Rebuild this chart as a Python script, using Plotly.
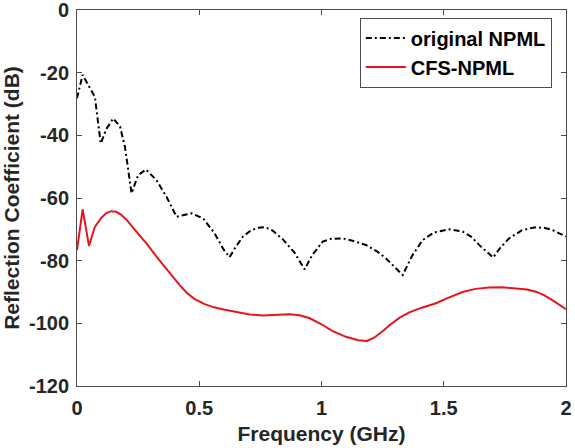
import plotly.graph_objects as go

# original NPML (black dash-dot)
f_orig = [0.0, 0.023, 0.05, 0.073, 0.097, 0.12, 0.148, 0.176, 0.196, 0.223, 0.25, 0.282,
          0.325, 0.366, 0.407, 0.44, 0.468, 0.516, 0.563, 0.6, 0.624, 0.65, 0.679, 0.71, 0.74,
          0.77, 0.8, 0.842, 0.89, 0.931, 0.96, 1.005, 1.04, 1.087, 1.13, 1.182, 1.23, 1.264,
          1.3, 1.332, 1.37, 1.414, 1.46, 1.522, 1.577, 1.615, 1.645, 1.68, 1.702, 1.73, 1.767,
          1.82, 1.869, 1.91, 1.944, 2.0]
r_orig = [-28.2, -20.7, -24.5, -27.7, -42.6, -38.0, -34.6, -37.2, -43.6, -58.5, -52.7, -50.9,
          -54.3, -59.6, -66.0, -65.5, -64.9, -66.5, -71.3, -76.5, -78.9, -75.5, -72.3, -70.4, -69.5,
          -69.3, -70.4, -73.2, -77.5, -82.8, -78.5, -73.9, -73.0, -72.9, -73.7, -75.0, -77.2, -79.3,
          -82.0, -84.6, -78.5, -73.4, -71.0, -70.0, -70.7, -72.5, -75.0, -77.5, -79.0, -76.0, -72.9,
          -70.3, -69.4, -69.5, -70.2, -72.3]

# CFS-NPML (red solid)
f_cfs = [0.0, 0.023, 0.049, 0.073, 0.1, 0.12, 0.14, 0.16, 0.18, 0.203, 0.24, 0.284, 0.33,
         0.38, 0.42, 0.45, 0.48, 0.52, 0.56, 0.6, 0.65, 0.706, 0.76, 0.82, 0.869, 0.91, 0.95,
         1.0, 1.046, 1.1, 1.15, 1.185, 1.215, 1.25, 1.278, 1.32, 1.359, 1.41, 1.468, 1.52,
         1.577, 1.63, 1.686, 1.74, 1.795, 1.84, 1.877, 1.91, 1.944, 1.975, 2.0]
r_cfs = [-76.6, -63.6, -75.3, -69.2, -66.3, -64.8, -64.2, -64.4, -65.3, -67.0, -70.5, -74.5, -79.2,
         -84.0, -87.8, -90.3, -92.2, -93.8, -94.9, -95.6, -96.3, -97.2, -97.5, -97.3, -97.1, -97.4, -98.3,
         -100.3, -102.5, -104.3, -105.4, -105.6, -104.6, -102.5, -100.6, -98.2, -96.5, -95.0, -93.6, -91.8,
         -90.0, -89.0, -88.6, -88.5, -88.8, -89.2, -89.9, -91.0, -92.6, -94.2, -95.5]

x_ticks = [0, 0.5, 1, 1.5, 2]
x_tick_labels = ["0", "0.5", "1", "1.5", "2"]
y_ticks = [-120, -100, -80, -60, -40, -20, 0]
y_tick_labels = ["-120", "-100", "-80", "-60", "-40", "-20", "0"]

FONT = "Liberation Sans, Arial, sans-serif"
TXT = "#262626"

fig = go.Figure()
fig.add_trace(go.Scatter(x=f_orig, y=r_orig, mode="lines", name="original NPML",
                         line=dict(color="black", width=2, dash="6px,3px,2px,3px")))
fig.add_trace(go.Scatter(x=f_cfs, y=r_cfs, mode="lines", name="CFS-NPML",
                         line=dict(color="#e8141a", width=2)))

axis_common = dict(showline=True, linecolor="#4d4d4d", linewidth=1, mirror="ticks",
                   ticks="inside", ticklen=5, tickcolor="#4d4d4d", showgrid=False,
                   zeroline=False, automargin=False, ticklabeloverflow="allow",
                   tickfont=dict(family=FONT, size=20, color=TXT, weight="bold"))

fig.update_layout(
    width=575, height=448,
    margin=dict(l=77, r=9, t=10, b=62),
    paper_bgcolor="white", plot_bgcolor="white",
    xaxis=dict(range=[0, 2], tickvals=x_ticks, ticktext=x_tick_labels,
               ticklabelstandoff=4,
               title=dict(text="Frequency (GHz)", standoff=8,
                          font=dict(family=FONT, size=21, color=TXT, weight="bold")),
               **axis_common),
    yaxis=dict(range=[-120, 0], tickvals=y_ticks, ticktext=y_tick_labels,
               ticklabelstandoff=3,
               title=dict(text="Reflection Coefficient (dB)", standoff=8,
                          font=dict(family=FONT, size=21, color=TXT, weight="bold")),
               **axis_common),
    legend=dict(x=0.971, y=0.98, xanchor="right", yanchor="top",
                bordercolor="#4d4d4d", borderwidth=1, bgcolor="white",
                font=dict(family=FONT, size=20, color="black", weight="bold"),
                tracegroupgap=0, itemwidth=40),
    showlegend=True,
)

fig.write_html("out.html")
